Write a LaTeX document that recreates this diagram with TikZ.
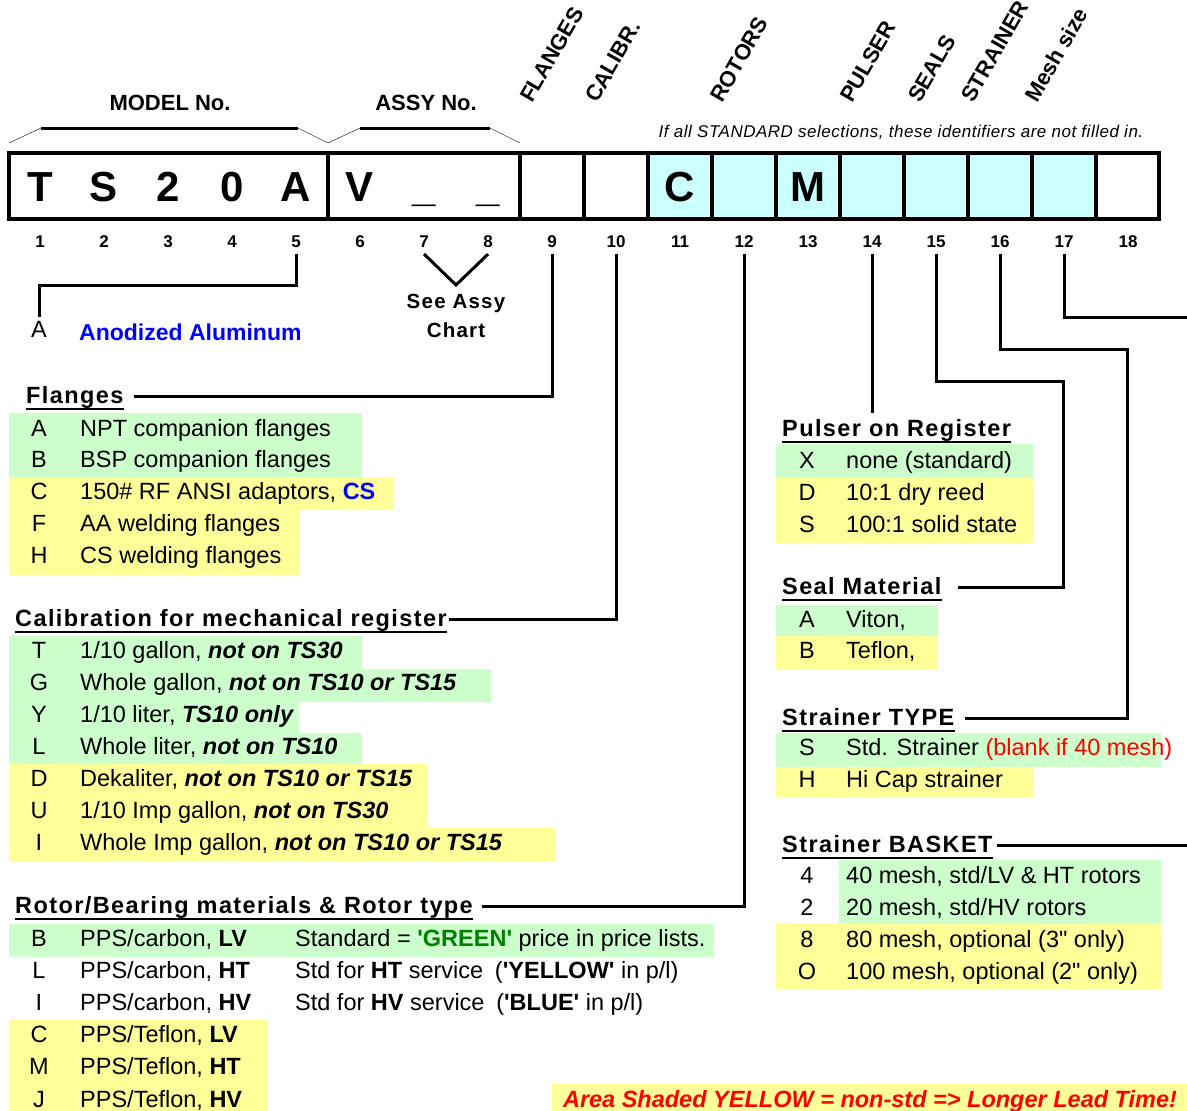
\documentclass[tikz,border=0pt]{standalone}
\usepackage{fontspec}
\setmainfont{Liberation Sans}
\newfontfamily\spacedsf[LetterSpace=6]{Liberation Sans}
\newfontfamily\notesf[LetterSpace=3]{Liberation Sans}
\newcommand{\fsz}[1]{\fontsize{#1}{#1}\selectfont}
\definecolor{stdgreen}{HTML}{CCFFCC}
\definecolor{nonstd}{HTML}{FFFF99}
\definecolor{cellcyan}{HTML}{CCFFFF}
\definecolor{pricegreen}{HTML}{008000}
\definecolor{linkblue}{HTML}{0000FF}
\tikzset{
  cellnum/.style={font=\fsz{17}\bfseries, anchor=base, inner sep=0pt, outer ysep=7pt},
  boxchar/.style={font=\fsz{42}\bfseries, anchor=base, inner sep=0pt},
  grphead/.style={font=\fsz{22}\bfseries, anchor=base, inner sep=0pt},
  colhead/.style={font=\fsz{22}\bfseries, rotate=60, anchor=base west, inner sep=0pt},
  title/.style={font=\spacedsf\fsz{23.5}\bfseries, anchor=base west, inner sep=0pt, text height=14pt, text depth=0pt},
  code/.style={font=\fsz{23.5}, anchor=base, inner sep=0pt},
  item/.style={font=\fsz{23.5}, anchor=base west, inner sep=0pt},
  conn/.style={line width=3pt},
  uline/.style={line width=2pt},
}
\begin{document}
\begin{tikzpicture}[x=1pt,y=-1pt]
  \useasboundingbox (0,0) rectangle (1187,1111);

  % shading of the option rows
  \fill[stdgreen] (9,413) rectangle (362,477);
  \fill[nonstd] (9,477) rectangle (394,510) (9,510) rectangle (299,575);
  \fill[stdgreen] (9,636) rectangle (362,669) (9,669) rectangle (491,702)
    (9,702) rectangle (299,733) (9,733) rectangle (362,764);
  \fill[nonstd] (9,764) rectangle (427,828) (9,828) rectangle (555,861);
  \fill[stdgreen] (9,924) rectangle (714,957);
  \fill[nonstd] (9,1020) rectangle (268,1111);
  \fill[stdgreen] (776,444) rectangle (1033,477);
  \fill[nonstd] (776,477) rectangle (1033,543);
  \fill[stdgreen] (776,605) rectangle (938,636);
  \fill[nonstd] (776,636) rectangle (938,670);
  \fill[stdgreen] (776,733) rectangle (1161,767);
  \fill[nonstd] (776,767) rectangle (1033,797);
  \fill[stdgreen] (839,860) rectangle (1161,923);
  \fill[nonstd] (776,923) rectangle (1161,989);
  \fill[nonstd] (552,1084) rectangle (1187,1111);

  % code box
  \fill[cellcyan] (648,153) rectangle (1096,219);
  \draw[line width=4pt] (9,153) rectangle (1159,219);
  \foreach \x in {328,520,584,...,1096}
    \draw[line width=3.5pt] (\x,153) -- (\x,219);
  \foreach \c/\i in {T/1,S/2,2/3,0/4,A/5,V/6,\_/7,\_/8,C/11,M/13}
    \node[boxchar] (b\i) at (64*\i-24,201) {\c};
  \foreach \i in {1,...,18}
    \node[cellnum] (n\i) at (64*\i-24,247) {\i};

  % headings above the box
  \node[grphead] (model) at (170,110) {MODEL No.};
  \node[grphead] (assy) at (426,110) {ASSY No.};
  \draw (9,143) -- (41,128) (298,128) -- (328,143) -- (360,128) (490,128) -- (520,143);
  \draw[line width=3pt] (41,128) -- (298,128) (360,128) -- (490,128);
  \foreach \t/\x/\nm in {FLANGES/532/hflg, CALIBR./597/hcal, ROTORS/722/hrot,
      PULSER/852/hpul, SEALS/920/hseal, STRAINER/973/hstr, Mesh size/1037/hmesh}
    \node[colhead] (\nm) at (\x,104) {\t};
  \node[font=\notesf\fsz{17}\itshape, anchor=base, inner sep=0pt] (stdnote) at (901,137)
    {If all STANDARD selections, these identifiers are not filled in.};

  % body material and assy chart
  \node[code] (ak) at (39,337) {A};
  \node[item, font=\fsz{23}\bfseries, text=linkblue] (at) at (79,340) {Anodized Aluminum};
  \node[font=\spacedsf\fsz{20.5}\bfseries, anchor=base, inner sep=0pt] (assy1) at (456,308) {See Assy};
  \node[font=\spacedsf\fsz{20.5}\bfseries, anchor=base, inner sep=0pt] (assy2) at (456,337) {Chart};
  \coordinate (vtx) at (456,285);

  % option lists
  \node[title] (flg) at (26,403) {Flanges};
  \foreach \k/\t [count=\i] in {A/NPT companion flanges, B/BSP companion flanges,
      C/{150\# RF ANSI adaptors, \textcolor{linkblue}{\bfseries CS}},
      F/AA welding flanges, H/CS welding flanges}{
    \pgfmathsetmacro\y{436+31.75*(\i-1)}
    \node[code] (fk\i) at (39,\y) {\k};
    \node[item] (ft\i) at (80,\y) {\t};
  }

  \node[title] (cal) at (15,626) {Calibration for mechanical register};
  \foreach \k/\t [count=\i] in {T/{1/10 gallon, \textbf{\textit{not on TS30}}},
      G/{Whole gallon, \textbf{\textit{not on TS10 or TS15}}},
      Y/{1/10 liter, \textbf{\textit{TS10 only}}},
      L/{Whole liter, \textbf{\textit{not on TS10}}},
      D/{Dekaliter, \textbf{\textit{not on TS10 or TS15}}},
      U/{1/10 Imp gallon, \textbf{\textit{not on TS30}}},
      I/{Whole Imp gallon, \textbf{\textit{not on TS10 or TS15}}}}{
    \pgfmathsetmacro\y{658+32*(\i-1)}
    \node[code] (ck\i) at (39,\y) {\k};
    \node[item] (ct\i) at (80,\y) {\t};
  }

  \node[title] (rot) at (15,913) {Rotor/Bearing materials \& Rotor type};
  \foreach \k/\t/\s [count=\i] in {B/{PPS/carbon, \textbf{LV}}/{Standard = \textbf{\color{pricegreen}\textquotesingle GREEN\textquotesingle} price in price lists.},
      L/{PPS/carbon, \textbf{HT}}/{Std for \textbf{HT} service\enspace(\textbf{\textquotesingle YELLOW\textquotesingle} in p/l)},
      I/{PPS/carbon, \textbf{HV}}/{Std for \textbf{HV} service\enspace(\textbf{\textquotesingle BLUE\textquotesingle} in p/l)},
      C/{PPS/Teflon, \textbf{LV}}/{},
      M/{PPS/Teflon, \textbf{HT}}/{},
      J/{PPS/Teflon, \textbf{HV}}/{}}{
    \pgfmathsetmacro\y{946+32.2*(\i-1)}
    \node[code] (rk\i) at (39,\y) {\k};
    \node[item] (rt\i) at (80,\y) {\t};
    \node[item] (rs\i) at (295,\y) {\s};
  }

  \node[title] (pul) at (782,436) {Pulser on Register};
  \foreach \k/\t [count=\i] in {X/none (standard), D/10:1 dry reed, S/100:1 solid state}{
    \pgfmathsetmacro\y{468+32*(\i-1)}
    \node[code] (pk\i) at (807,\y) {\k};
    \node[item] (pt\i) at (846,\y) {\t};
  }

  \node[title] (seal) at (782,594) {Seal Material};
  \foreach \k/\t [count=\i] in {A/{Viton,}, B/{Teflon,}}{
    \pgfmathsetmacro\y{627+31*(\i-1)}
    \node[code] (sk\i) at (807,\y) {\k};
    \node[item] (st\i) at (846,\y) {\t};
  }

  \node[title] (strt) at (782,725) {Strainer TYPE};
  \foreach \k/\t [count=\i] in {S/{Std. Strainer \textcolor{red}{(blank if 40 mesh)}}, H/Hi Cap strainer}{
    \pgfmathsetmacro\y{755+32*(\i-1)}
    \node[code] (tk\i) at (807,\y) {\k};
    \node[item] (tt\i) at (846,\y) {\t};
  }

  \node[title] (bsk) at (782,852) {Strainer BASKET};
  \foreach \k/\t [count=\i] in {4/{40 mesh, std/LV \& HT rotors}, 2/{20 mesh, std/HV rotors},
      8/{80 mesh, optional (3\textquotedbl{} only)}, O/{100 mesh, optional (2\textquotedbl{} only)}}{
    \pgfmathsetmacro\y{883+32*(\i-1)}
    \node[code] (mk\i) at (807,\y) {\k};
    \node[item] (mt\i) at (846,\y) {\t};
  }

  \foreach \t in {flg,cal,rot,pul,seal,strt,bsk}
    \draw[uline] ([yshift=-5.5pt]\t.base west) -- ([yshift=-5.5pt]\t.base east);

  \node[font=\fsz{23.5}\bfseries\itshape, text=red, anchor=base, inner sep=0pt] (lead) at (870,1107)
    {Area Shaded YELLOW = non-std => Longer Lead Time!};

  % connectors
  \coordinate (j5) at (39,285);
  \coordinate (j15) at (1063,381);
  \coordinate (j16) at (1127,349);
  \coordinate (e17) at (1187,317);
  \draw[conn] (n5.south) |- (j5) -- ([yshift=4pt]ak.north);
  \draw[conn] (n7.south) -- (vtx) -- (n8.south);
  \draw[conn, shorten >=10pt] (n9.south) |- (flg.east);
  \draw[conn, shorten >=2pt] (n10.south) |- (cal.east);
  \draw[conn, shorten >=9pt] (n12.south) |- (rot.east);
  \draw[conn, shorten >=9pt] (n14.south) -- (n14.south |- pul.north);
  \draw[conn, shorten >=16pt] (n15.south) |- (j15) |- (seal.east);
  \draw[conn, shorten >=10pt] (n16.south) |- (j16) |- (strt.east);
  \draw[conn] (n17.south) |- (e17);
  \draw[conn, shorten <=4pt] (bsk.east) -- (bsk.east -| e17);
\end{tikzpicture}
\end{document}
